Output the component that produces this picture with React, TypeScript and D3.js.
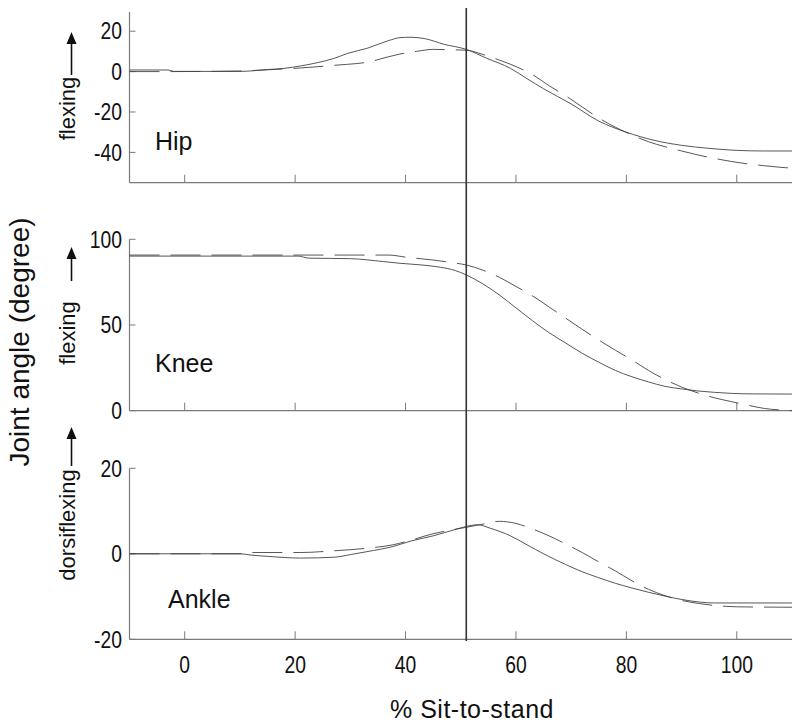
import React from "react";
import * as d3 from "d3";

const xTicks = [0, 20, 40, 60, 80, 100];
const hipTicks = [20, 0, -20, -40];
const kneeTicks = [100, 50, 0];
const ankleTicks = [20, 0, -20];
const markerX = 51;

const hipSolidX = [-10, -3, -2, 10, 15, 18, 21, 24, 27, 29.5, 33, 37, 39, 41, 43.5, 47, 51, 54.7, 59, 62, 65, 70, 75, 80, 85, 90, 95, 100, 105, 110];
const hipSolidY = [0.8, 0.8, 0.1, 0.1, 1, 1.6, 2.8, 4.4, 6.5, 9, 11.5, 15.4, 16.8, 17, 16.3, 13.5, 11, 6.6, 1.6, -3.5, -8.5, -16, -24.5, -30, -34, -36.5, -38, -39, -39.3, -39.3];
const hipDashX = [-10, -3, 10, 15, 18, 21, 24, 27, 29.5, 33, 37, 39, 42, 45, 48, 51, 54, 57, 60, 63, 66, 69, 72, 75, 78, 81, 84, 87, 90, 93, 96, 99, 102, 105, 108, 110];
const hipDashY = [0, 0, 0.3, 0.9, 1.3, 1.8, 2.4, 3.1, 3.6, 4.6, 7.4, 8.7, 10, 11, 10.8, 10.6, 8.5, 5.7, 2.5, -1.5, -7, -12, -17.5, -23, -27.5, -31.4, -34.7, -37.2, -39.3, -41.3, -43, -44.5, -45.7, -46.6, -47.4, -47.8];

const kneeSolidX = [-10, 20.5, 22.5, 30, 36, 39, 43, 46.3, 49, 51, 54, 57, 60, 63, 66, 69, 72, 75, 78, 81, 84, 87, 90, 93, 96, 99, 103, 110];
const kneeSolidY = [90.2, 90.2, 89, 88.7, 87, 86, 85, 83.7, 81.8, 79.2, 74, 67.5, 60, 52.5, 45.5, 39.5, 33.5, 28.3, 23.5, 19.8, 16.8, 14.2, 12.7, 11.5, 10.7, 10.1, 9.8, 9.7];
const kneeDashX = [-10, 37, 40, 45, 48, 51, 54, 57, 60, 63, 66, 69, 72, 75, 78, 81, 84, 87, 90, 93, 96, 99, 102, 105, 108, 110];
const kneeDashY = [90.8, 90.8, 89.6, 87.9, 86.6, 85, 82, 77.8, 72.5, 67, 60.5, 54, 47.5, 41.2, 35.3, 29.6, 23.5, 18.2, 13.8, 10.3, 7.5, 5.3, 3.2, 1.3, 0.4, 0];

const ankleSolidX = [-10, 10, 12, 15, 21, 27, 30, 33, 37.7, 41, 45, 48, 51, 53, 55.3, 59, 62, 65, 69, 72, 75, 78, 81, 84, 87, 91, 96, 110];
const ankleSolidY = [0, 0, -0.3, -0.6, -1, -0.8, -0.2, 0.5, 1.7, 3, 4.2, 5.3, 6.4, 6.8, 6, 4.2, 2.1, 0, -2.5, -4.2, -5.6, -6.9, -8, -9, -9.9, -10.9, -11.5, -11.5];
const ankleDashX = [-10, 10, 11, 21, 27, 33, 37.7, 41, 45, 48, 51, 53.5, 57, 60, 63, 66, 69, 72, 75, 78, 81, 84, 87, 90, 93, 96, 100, 110];
const ankleDashY = [0, 0, 0.3, 0.3, 0.7, 1.3, 2.1, 3.2, 4.7, 5.5, 6.2, 6.8, 7.6, 7.1, 5.8, 4.2, 2.3, 0.3, -1.9, -4, -6.3, -8.3, -9.8, -10.9, -11.6, -12.1, -12.4, -12.5];

const W = 800;
const H = 727;
const x = d3.scaleLinear().domain([-10, 110]).range([129.5, 792]);

type Panel = {
  name: string;
  dir: string;
  domain: [number, number];
  range: [number, number];
  ticks: number[];
  solid: [number[], number[]];
  dash: [number[], number[]];
  labelX: number;
  labelY: number;
  dirCenter: number;
  arrowTip: number;
  arrowBase: number;
};

const panels: Panel[] = [
  { name: "Hip", dir: "flexing", domain: [-55, 29.5], range: [182.7, 12], ticks: hipTicks, solid: [hipSolidX, hipSolidY], dash: [hipDashX, hipDashY], labelX: 155, labelY: 150, dirCenter: 108.5, arrowTip: 32, arrowBase: 75 },
  { name: "Knee", dir: "flexing", domain: [0, 100], range: [410.7, 239.3], ticks: kneeTicks, solid: [kneeSolidX, kneeSolidY], dash: [kneeDashX, kneeDashY], labelX: 155, labelY: 372, dirCenter: 333, arrowTip: 247, arrowBase: 281 },
  { name: "Ankle", dir: "dorsiflexing", domain: [-20, 20], range: [639.3, 468.3], ticks: ankleTicks, solid: [ankleSolidX, ankleSolidY], dash: [ankleDashX, ankleDashY], labelX: 168, labelY: 608, dirCenter: 525, arrowTip: 427, arrowBase: 466 },
];

const AXIS = "#7a7a7a";
const LINE = "#444";
const SANS = "'Liberation Sans', Arial, sans-serif";
const NARROW_SCALE = 0.84;

function NarrowText({ x, y, anchor, children }: { x: number; y: number; anchor: string; children: React.ReactNode }) {
  return (
    <text
      transform={`translate(${x},${y}) scale(${NARROW_SCALE},1)`}
      textAnchor={anchor}
      fontFamily={SANS}
      fontSize={23}
      fill="#111"
    >
      {children}
    </text>
  );
}

function PanelView({ p }: { p: Panel }) {
  const y = d3.scaleLinear().domain(p.domain).range(p.range);
  const line = d3
    .line<[number, number]>()
    .x((d) => x(d[0]))
    .y((d) => y(d[1]))
    .curve(d3.curveMonotoneX);
  const solidPts = p.solid[0].map((v, i) => [v, p.solid[1][i]] as [number, number]);
  const dashPts = p.dash[0].map((v, i) => [v, p.dash[1][i]] as [number, number]);
  const [y0, y1] = p.range;
  const ax = x(-10);
  return (
    <g>
      <line x1={ax} x2={ax} y1={y0} y2={y1} stroke={AXIS} strokeWidth={1.2} />
      <line x1={ax} x2={x(110)} y1={y0} y2={y0} stroke={AXIS} strokeWidth={1.2} />
      {xTicks.map((t) => (
        <line key={"xt" + t} x1={x(t)} x2={x(t)} y1={y0} y2={y0 - 8} stroke={AXIS} strokeWidth={1} />
      ))}
      {p.ticks.map((t) => (
        <g key={"yt" + t}>
          <line x1={ax} x2={ax + 6} y1={y(t)} y2={y(t)} stroke={AXIS} strokeWidth={1} />
          <NarrowText x={122} y={y(t) + 8.3} anchor="end">
            {t}
          </NarrowText>
        </g>
      ))}
      <path d={line(solidPts) || ""} fill="none" stroke={LINE} strokeWidth={0.9} />
      <path d={line(dashPts) || ""} fill="none" stroke={LINE} strokeWidth={0.9} strokeDasharray="30 11" />
      <text x={p.labelX} y={p.labelY} fontFamily={SANS} fontSize={25} fill="#111">
        {p.name}
      </text>
      <text
        transform={`translate(75,${p.dirCenter}) rotate(-90)`}
        textAnchor="middle"
        fontFamily={SANS}
        fontSize={22}
        fill="#111"
      >
        {p.dir}
      </text>
      <line x1={71.5} x2={71.5} y1={p.arrowBase} y2={p.arrowTip + 10} stroke="#111" strokeWidth={1.6} />
      <path
        d={`M71.5,${p.arrowTip} L66.5,${p.arrowTip + 12} L76.5,${p.arrowTip + 12} Z`}
        fill="#111"
      />
    </g>
  );
}

export default function App() {
  return (
    <svg
      width={W}
      height={H}
      viewBox={`0 0 ${W} ${H}`}
      style={{ position: "absolute", left: 0, top: 0, background: "#fff" }}
    >
      <rect x={0} y={0} width={W} height={H} fill="#fff" />
      {panels.map((p) => (
        <PanelView key={p.name} p={p} />
      ))}
      <line x1={x(markerX)} x2={x(markerX)} y1={8} y2={641} stroke="#333" strokeWidth={1.6} />
      {xTicks.map((t) => (
        <NarrowText key={"xl" + t} x={x(t)} y={673} anchor="middle">
          {t}
        </NarrowText>
      ))}
      <text x={472} y={718} textAnchor="middle" fontFamily={SANS} fontSize={25} letterSpacing={0.5} fill="#111">
        % Sit-to-stand
      </text>
      <text
        transform={`translate(29,342) rotate(-90)`}
        textAnchor="middle"
        fontFamily={SANS}
        fontSize={28}
        fill="#111"
      >
        Joint angle (degree)
      </text>
    </svg>
  );
}
